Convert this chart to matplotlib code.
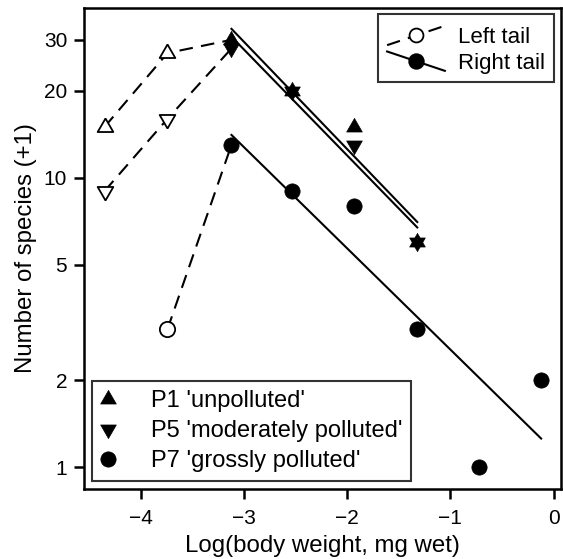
import numpy as np
import matplotlib.pyplot as plt
from matplotlib.lines import Line2D
from matplotlib.legend_handler import HandlerBase

plt.rcParams['font.family'] = ['Liberation Sans', 'DejaVu Sans']

# log10 of body weight classes (mg wet)
log_weight = [-4.35, -3.74, -3.12, -2.53, -1.93, -1.32, -0.72, -0.12]

# number of species (+1) per weight class
# left tail = rising part up to the mode, right tail = mode and after
p1_left = [15, 27, 30]
p5_left = [9, 16, 28]
p7_left = [3, 13]
p1_right = [30, 20, 15, 6]
p5_right = [28, 20, 13, 6]
p7_right = [13, 9, 8, 3, 1, 2]

site_labels = ["P1 'unpolluted'", "P5 'moderately polluted'", "P7 'grossly polluted'"]
tail_labels = ['Left tail', 'Right tail']

y_ticks = [1, 2, 5, 10, 20, 30]
x_ticks = [-4, -3, -2, -1, 0]

FS_TICK = 15
FS_LAB = 17.3
LW = 1.5
DASH = (6.5, 4)

# triangles centred on their centroid (so up + down gives a hexagram, as in R)
TRI_UP = [(0, 1), (-0.866, -0.5), (0.866, -0.5), (0, 1)]
TRI_DOWN = [(0, -1), (-0.866, 0.5), (0.866, 0.5), (0, -1)]

sites = [
    # marker, size, left x, left y, right x, right y
    (TRI_UP, 13, log_weight[0:3], p1_left, log_weight[2:6], p1_right),
    (TRI_DOWN, 13, log_weight[0:3], p5_left, log_weight[2:6], p5_right),
    ('o', 11, log_weight[1:3], p7_left, log_weight[2:8], p7_right),
]

fig = plt.figure(figsize=(5.63, 5.59), dpi=100)
ax = fig.add_axes([0.149, 0.125, 0.847, 0.861])
ax.set_yscale('log')

for mk, ms, xl, yl, xr, yr in sites:
    # left tail: dashed line, open markers
    ax.plot(xl, yl, color='k', lw=LW, dashes=DASH, zorder=2)
    ax.plot(xl[:-1], yl[:-1], linestyle='none', marker=mk, ms=ms,
            mfc='white', mec='k', mew=1.3, zorder=4)
    # right tail: filled markers and fitted line
    ax.plot(xr, yr, linestyle='none', marker=mk, ms=ms,
            mfc='k', mec='k', mew=0.5, zorder=4)
    slope, icpt = np.polyfit(xr, np.log10(yr), 1)
    xx = np.array([xr[0], xr[-1]])
    ax.plot(xx, 10 ** (icpt + slope * xx), color='k', lw=LW, zorder=3)

ax.set_xlim(-4.55, 0.07)
ax.set_ylim(0.84, 38.7)
ax.set_xticks(x_ticks)
ax.set_xticklabels([str(v).replace('-', '\u2212') for v in x_ticks])
ax.set_yticks(y_ticks)
ax.set_yticklabels([str(v) for v in y_ticks])
ax.minorticks_off()
ax.tick_params(axis='both', direction='out', length=7, width=1.8,
               labelsize=FS_TICK, color='k')
ax.tick_params(axis='x', pad=7)
ax.tick_params(axis='y', pad=5)
for sp in ax.spines.values():
    sp.set_linewidth(1.8)

ax.set_xlabel('Log(body weight, mg wet)', fontsize=FS_LAB, labelpad=5)
ax.set_ylabel('Number of species (+1)', fontsize=FS_LAB, labelpad=5)


class TailHandler(HandlerBase):
    def __init__(self, rising, **kw):
        super().__init__(**kw)
        self.rising = rising

    def create_artists(self, legend, orig_handle, xdescent, ydescent,
                       width, height, fontsize, trans):
        x0, x1 = -xdescent, -xdescent + width
        yc = -ydescent + height / 2
        dy = height * 0.4
        ys = [yc - dy, yc + dy] if self.rising else [yc + dy, yc - dy]
        line = Line2D([x0, x1], ys, color='k', lw=LW,
                      linestyle=orig_handle.get_linestyle())
        if orig_handle.get_linestyle() != '-':
            line.set_dashes(DASH)
        dot = Line2D([(x0 + x1) / 2], [yc], linestyle='none', marker='o',
                     ms=orig_handle.get_markersize(),
                     mfc=orig_handle.get_markerfacecolor(), mec='k', mew=1.3)
        line.set_transform(trans)
        dot.set_transform(trans)
        return [line, dot]


left_h = Line2D([], [], color='k', linestyle='--', marker='o', ms=10, mfc='white')
right_h = Line2D([], [], color='k', linestyle='-', marker='o', ms=10.5, mfc='k')
leg1 = ax.legend([left_h, right_h], tail_labels, loc='upper right',
                 handler_map={left_h: TailHandler(True), right_h: TailHandler(False)},
                 fontsize=16, frameon=True, fancybox=False, edgecolor='k',
                 handlelength=2.6, handleheight=1.3, handletextpad=0.6,
                 borderaxespad=0.3, labelspacing=0.05, borderpad=0.4)
leg1.get_frame().set_linewidth(1.5)
ax.add_artist(leg1)

site_handles = [Line2D([], [], linestyle='none', marker=s[0], ms=s[1],
                       color='k', mew=0.5) for s in sites]
leg2 = ax.legend(site_handles, site_labels, loc='lower left', fontsize=17,
                 frameon=True, fancybox=False, edgecolor='k',
                 handlelength=0.6, handletextpad=1.5, borderaxespad=0.35,
                 labelspacing=0.34, borderpad=0.38)
leg2.get_frame().set_linewidth(1.5)

fig.savefig('out.png', dpi=100)
